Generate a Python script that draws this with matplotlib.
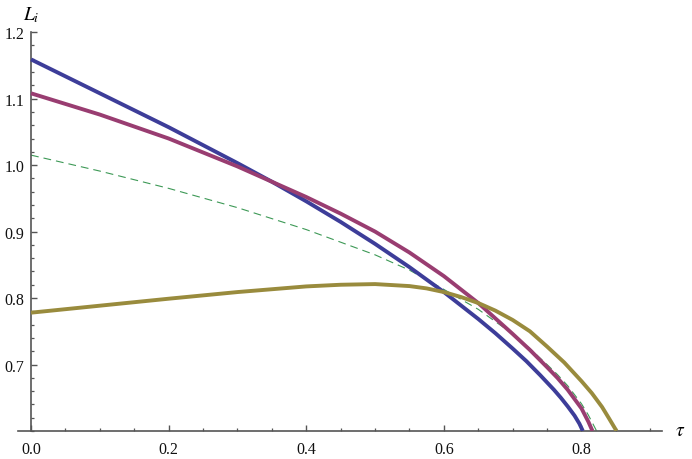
import numpy as np
import matplotlib
matplotlib.use("Agg")
import matplotlib.pyplot as plt
import matplotlib.ticker as ticker

# values
tau_blue = [0.0, 0.1, 0.2, 0.25, 0.3, 0.35, 0.4, 0.45, 0.5, 0.55, 0.6, 0.65, 0.675, 0.7, 0.72, 0.74,
            0.75, 0.76, 0.77, 0.78, 0.79, 0.797, 0.802]
L_blue   = [1.159, 1.108, 1.057, 1.030, 1.003, 0.975, 0.9455, 0.9145, 0.8815, 0.8465, 0.809, 0.7685, 0.747, 0.724, 0.705, 0.684,
            0.673, 0.662, 0.650, 0.637, 0.623, 0.611, 0.600]

tau_red = [0.0, 0.1, 0.2, 0.3, 0.35, 0.4, 0.45, 0.5, 0.55, 0.6, 0.65, 0.7, 0.725, 0.75, 0.765, 0.78, 0.8, 0.81, 0.816]
L_red   = [1.108, 1.076, 1.040, 0.998, 0.975, 0.952, 0.927, 0.900, 0.8685, 0.833, 0.7925, 0.746, 0.722, 0.696, 0.680, 0.662, 0.634, 0.614, 0.600]

tau_green = [0.0, 0.1, 0.2, 0.3, 0.4, 0.5, 0.55, 0.6, 0.65, 0.7, 0.725, 0.75, 0.765, 0.78, 0.8, 0.81, 0.822]
L_green   = [1.015, 0.991, 0.965, 0.936, 0.903, 0.865, 0.842, 0.813, 0.783, 0.746, 0.724, 0.700, 0.685, 0.668, 0.641, 0.624, 0.600]

tau_gold = [0.0, 0.1, 0.2, 0.3, 0.4, 0.45, 0.5, 0.55, 0.575, 0.6, 0.625, 0.65, 0.675, 0.7, 0.725,
            0.75, 0.775, 0.8, 0.815, 0.83, 0.84, 0.851]
L_gold   = [0.778, 0.7885, 0.799, 0.809, 0.8175, 0.820, 0.821, 0.818, 0.8145, 0.809, 0.8015, 0.7925, 0.781, 0.767, 0.750,
            0.727, 0.703, 0.675, 0.657, 0.636, 0.619, 0.600]

x_major = [0.0, 0.2, 0.4, 0.6, 0.8]
y_major = [0.7, 0.8, 0.9, 1.0, 1.1, 1.2]

plt.rcParams["font.family"] = ["Liberation Serif", "DejaVu Serif"]
plt.rcParams["mathtext.fontset"] = "stix"

fig = plt.figure(figsize=(6.92, 4.60), dpi=100)
ax = fig.add_axes([0.026, 0.0609, 0.9306, 0.867])

c_blue = (0.24, 0.24, 0.6)
c_red = (0.6, 0.24, 0.443)
c_gold = (0.6, 0.547, 0.24)
c_green = (0.24, 0.6, 0.337)

ax.plot(tau_green, L_green, color=c_green, lw=0.8, dashes=(7, 4.5), zorder=2)
ax.plot(tau_blue, L_blue, color=c_blue, lw=2.8, solid_capstyle="butt", solid_joinstyle="round", zorder=3)
ax.plot(tau_red, L_red, color=c_red, lw=2.8, solid_capstyle="butt", solid_joinstyle="round", zorder=3)
ax.plot(tau_gold, L_gold, color=c_gold, lw=2.8, solid_capstyle="butt", solid_joinstyle="round", zorder=3)

ax.set_xlim(-0.019, 0.917)
ax.set_ylim(0.6, 1.2)

# mathematica style axes
for s in ["top", "right"]:
    ax.spines[s].set_visible(False)
ax.spines["left"].set_position(("data", 0))
axis_col = "#555555"
ax.spines["left"].set_color(axis_col)
ax.spines["bottom"].set_color(axis_col)
ax.spines["left"].set_linewidth(1.2)
ax.spines["bottom"].set_linewidth(1.2)

ax.set_xticks(x_major)
ax.set_xticklabels([f"{v:.1f}" for v in x_major])
ax.xaxis.set_minor_locator(ticker.MultipleLocator(0.05))
ax.set_yticks(y_major)
ax.set_yticklabels([f"{v:.1f}" for v in y_major])
ax.yaxis.set_minor_locator(ticker.MultipleLocator(0.02))

ax.tick_params(which="both", direction="in", color=axis_col, labelsize=11.5, labelcolor="#111111")
ax.tick_params(which="major", length=4.2, width=1.0)
ax.tick_params(which="minor", length=2.4, width=0.9)
ax.tick_params(axis="x", pad=7)
ax.tick_params(axis="y", pad=5)

ax.text(0.943, 0.6, r"$\tau$", fontsize=14, ha="center", va="center", clip_on=False)
fig.text(31 / 692, 1 - 15 / 460, r"$L_i$", fontsize=14, ha="center", va="center")

fig.savefig("out.png", dpi=100)
